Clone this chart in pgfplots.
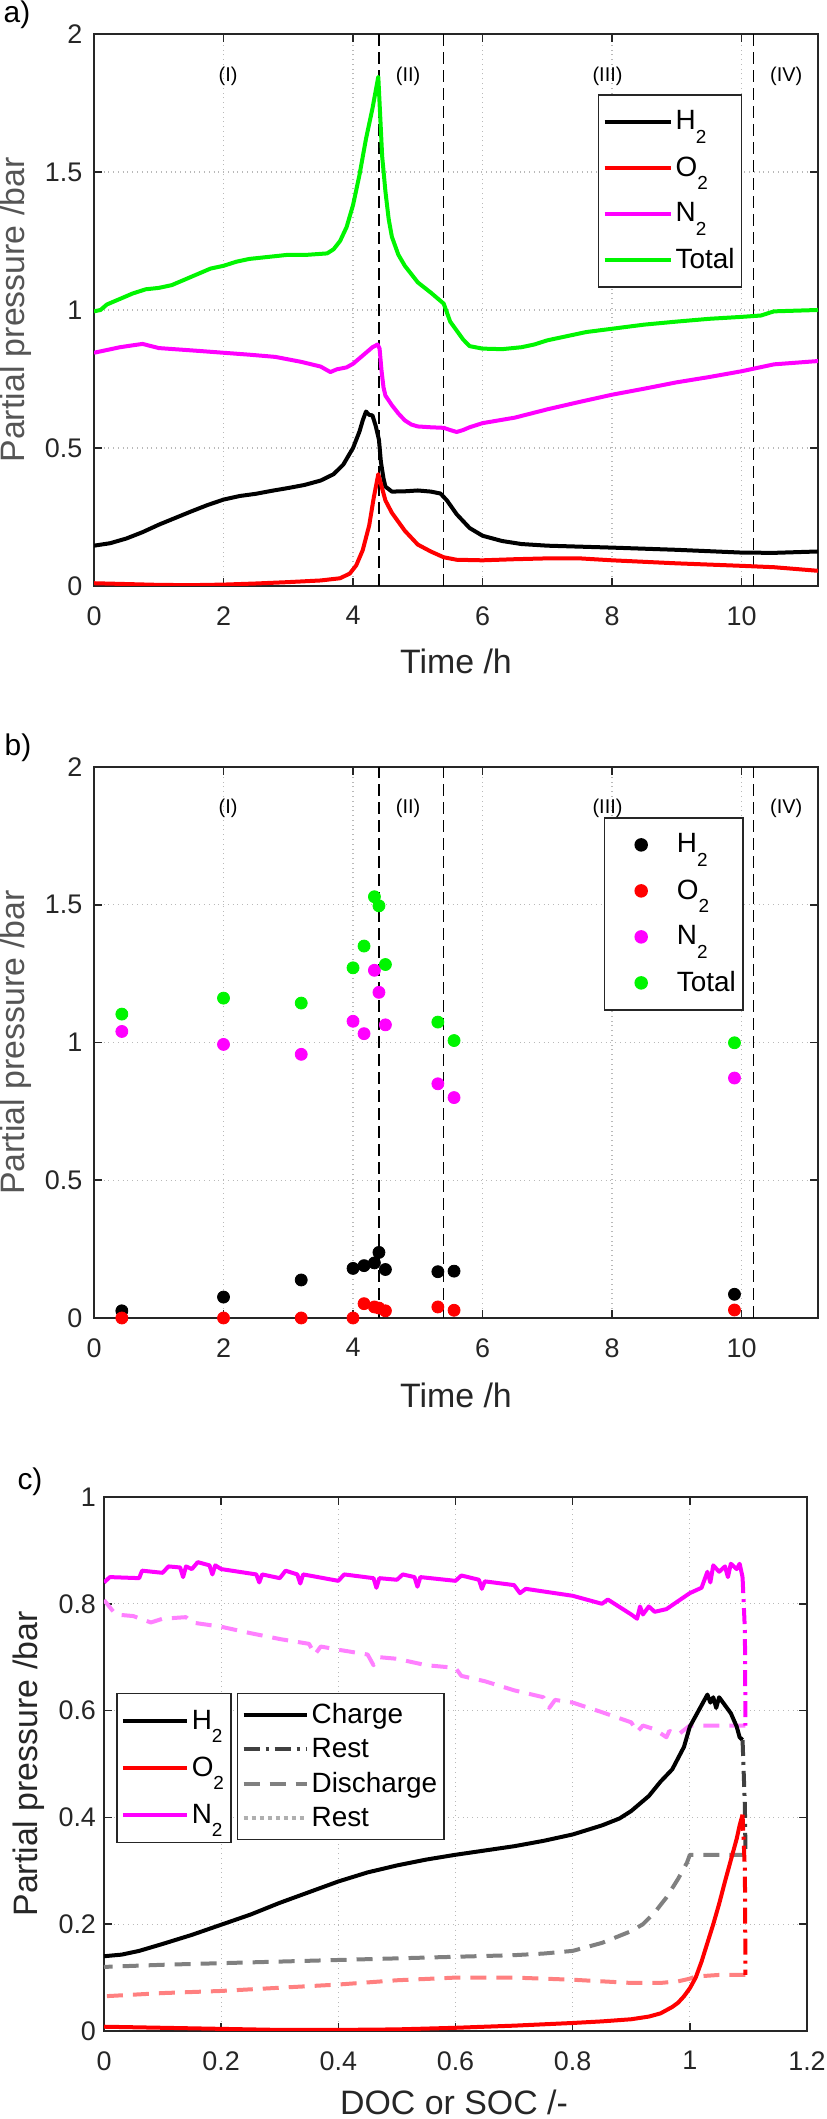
\documentclass[border=0pt]{standalone}
\usepackage{fontspec}
\setmainfont{Liberation Sans}
\usepackage{pgfplots}
\pgfplotsset{compat=1.18}
\definecolor{axcol}{RGB}{38,38,38}
\definecolor{gridcol}{RGB}{185,185,185}
\definecolor{mgreen}{RGB}{0,245,0}
\definecolor{mmag}{RGB}{255,0,255}
\definecolor{mred}{RGB}{255,0,0}
\definecolor{lmag}{RGB}{255,128,255}
\definecolor{lred}{RGB}{255,128,128}
\definecolor{dgray}{RGB}{64,64,64}
\definecolor{mgray}{RGB}{128,128,128}
\definecolor{lgray}{RGB}{175,175,175}
\definecolor{ylcol}{RGB}{85,85,85}
\newcommand{\sub}[1]{\raisebox{-6.6bp}{\fontsize{9.5}{10}\selectfont #1}}
\tikzset{
  rlab/.style={font=\fontsize{10}{12}\selectfont, text=black},
  mdash/.style={dash pattern=on 8bp off 5bp},
  mdashdot/.style={dash pattern=on 8bp off 3bp on 1.5bp off 3bp},
}
\pgfplotsset{
  mstyle/.style={
    scale only axis,
    axis line style={draw=axcol, line width=0.8bp},
    every tick/.style={draw=axcol, line width=0.8bp},
    major tick length=4bp,
    tick align=inside,
    xtick pos=both, ytick pos=both,
    xticklabel pos=bottom, yticklabel pos=left,
    grid=major,
    major grid style={draw=gridcol, dotted, line width=0.6bp},
    ticklabel style={font=\fontsize{13.5}{16}\selectfont, text=axcol},
    /pgf/number format/assume math mode=true,
    legend cell align=left,
    every axis plot/.append style={line join=round},
  },
  vline/.style={black, line width=0.6bp, dash pattern=on 6bp off 3bp, forget plot},
  legA/.style={legend style={draw=axcol, line width=0.75bp, font=\fontsize{14}{16}\selectfont,
     inner xsep=2bp, inner ysep=2bp, row sep=0bp,
     nodes={inner xsep=1.5bp, inner ysep=0bp, minimum height=23bp}}},
  markleg/.style={legend image code/.code={\path (0bp,0bp) (32bp,0bp); \draw[mark repeat=2, mark phase=2, ##1] plot coordinates {(0bp,0bp) (16bp,0bp) (32bp,0bp)};}},
  pts/.style={only marks, mark=*, mark size=3bp, color=#1, mark options={fill=#1}, markleg},
}
\begin{document}
\begin{tikzpicture}
\path[use as bounding box] (0,0) rectangle (413.5bp,1059.5bp);

% ---------------- panel a
\begin{axis}[mstyle,
  at={(47bp,766.5bp)}, anchor=south west,
  width=362bp, height=276bp,
  xmin=0, xmax=11.18, ymin=0, ymax=2,
  xtick={0,2,4,6,8,10}, ytick={0,0.5,1,1.5,2},
  xticklabel style={yshift=-6.7bp}, yticklabel style={xshift=-2.35bp},
  legA,
  legend style={at={(0.696,0.891)}, anchor=north west},
  legend image code/.code={\draw[#1] (0bp,0bp) -- (33bp,0bp);},
]
\addplot[vline] coordinates {(4.4,0) (4.4,2)};
\addplot[vline] coordinates {(5.4,0) (5.4,2)};
\addplot[vline] coordinates {(10.19,0) (10.19,2)};
\addplot[black, line width=2bp] coordinates {
(0,0.146)(0.25,0.155)(0.5,0.172)(0.75,0.195)(1.0,0.222)(1.25,0.246)(1.5,0.27)(1.75,0.293)(2.0,0.313)(2.25,0.326)(2.5,0.334)(2.75,0.345)(3.0,0.355)(3.25,0.366)(3.5,0.382)(3.7,0.405)(3.85,0.44)(4.0,0.50)(4.1,0.56)(4.15,0.60)(4.2,0.632)(4.25,0.62)(4.3,0.618)(4.35,0.58)(4.4,0.53)(4.43,0.45)(4.47,0.39)(4.5,0.36)(4.6,0.342)(4.8,0.343)(5.0,0.346)(5.2,0.342)(5.35,0.335)(5.45,0.31)(5.6,0.26)(5.8,0.21)(6.0,0.182)(6.3,0.163)(6.6,0.152)(7.0,0.146)(8.0,0.139)(9.0,0.131)(10.0,0.121)(10.5,0.12)(11.18,0.125)};
\addlegendentry{H\sub{2}}
\addplot[mred, line width=2bp] coordinates {
(0,0.01)(0.5,0.007)(1.0,0.004)(1.5,0.003)(2.0,0.005)(2.5,0.009)(3.0,0.014)(3.5,0.02)(3.8,0.028)(3.95,0.045)(4.05,0.075)(4.15,0.13)(4.25,0.22)(4.32,0.32)(4.39,0.405)(4.43,0.37)(4.5,0.31)(4.6,0.265)(4.8,0.20)(5.0,0.15)(5.2,0.125)(5.4,0.104)(5.6,0.095)(6.0,0.093)(6.5,0.097)(7.0,0.10)(7.5,0.10)(8.0,0.093)(9.0,0.082)(10.0,0.073)(10.5,0.068)(11.18,0.055)};
\addlegendentry{O\sub{2}}
\addplot[mmag, line width=2bp] coordinates {
(0,0.845)(0.2,0.855)(0.4,0.865)(0.6,0.872)(0.75,0.877)(1.0,0.862)(1.3,0.857)(1.6,0.852)(2.0,0.845)(2.4,0.838)(2.8,0.83)(3.2,0.812)(3.5,0.795)(3.65,0.775)(3.75,0.785)(3.9,0.792)(4.0,0.805)(4.1,0.825)(4.2,0.845)(4.3,0.865)(4.38,0.875)(4.41,0.86)(4.44,0.78)(4.47,0.72)(4.5,0.69)(4.6,0.655)(4.7,0.625)(4.8,0.60)(4.9,0.585)(5.0,0.578)(5.2,0.575)(5.4,0.573)(5.5,0.565)(5.6,0.558)(5.7,0.565)(5.8,0.575)(6.0,0.59)(6.5,0.61)(7.0,0.64)(7.5,0.667)(8.0,0.693)(8.5,0.715)(9.0,0.738)(9.5,0.757)(10.0,0.778)(10.5,0.803)(11.18,0.815)};
\addlegendentry{N\sub{2}}
\addplot[mgreen, line width=2bp] coordinates {
(0,0.995)(0.1,1.0)(0.2,1.02)(0.4,1.04)(0.6,1.06)(0.8,1.075)(1.0,1.08)(1.2,1.09)(1.4,1.11)(1.6,1.13)(1.8,1.15)(2.0,1.16)(2.2,1.175)(2.4,1.185)(2.6,1.19)(2.8,1.195)(3.0,1.2)(3.3,1.2)(3.6,1.205)(3.7,1.22)(3.8,1.25)(3.9,1.30)(4.0,1.38)(4.1,1.49)(4.2,1.62)(4.3,1.73)(4.39,1.845)(4.45,1.556)(4.5,1.43)(4.55,1.33)(4.6,1.265)(4.7,1.2)(4.8,1.16)(5.0,1.10)(5.2,1.063)(5.4,1.023)(5.5,0.958)(5.7,0.893)(5.8,0.869)(6.0,0.86)(6.3,0.858)(6.6,0.865)(6.8,0.875)(7.0,0.89)(7.3,0.905)(7.6,0.92)(8.0,0.932)(8.5,0.947)(9.0,0.958)(9.5,0.968)(10.0,0.975)(10.3,0.98)(10.5,0.995)(11.18,1.0)};
\addlegendentry{Total}
\node[rlab] at (axis cs:2.07,1.845) {(I)};
\node[rlab] at (axis cs:4.85,1.845) {(II)};
\node[rlab] at (axis cs:7.93,1.845) {(III)};
\node[rlab] at (axis cs:10.69,1.845) {(IV)};
\end{axis}

% ---------------- panel b
\begin{axis}[mstyle,
  at={(47bp,400.5bp)}, anchor=south west,
  width=362bp, height=275.5bp,
  xmin=0, xmax=11.18, ymin=0, ymax=2,
  xtick={0,2,4,6,8,10}, ytick={0,0.5,1,1.5,2},
  xticklabel style={yshift=-6.7bp}, yticklabel style={xshift=-2.35bp},
  legA,
  legend style={at={(0.704,0.909)}, anchor=north west},
]
\addplot[vline] coordinates {(4.4,0) (4.4,2)};
\addplot[vline] coordinates {(5.4,0) (5.4,2)};
\addplot[vline] coordinates {(10.19,0) (10.19,2)};
\addplot[pts=black]
  coordinates {(0.43,0.026)(2.0,0.076)(3.2,0.138)(4.0,0.18)(4.17,0.19)(4.33,0.2)(4.4,0.238)(4.5,0.176)(5.31,0.168)(5.56,0.17)(9.89,0.086)};
\addlegendentry{H\sub{2}}
\addplot[pts=mred]
  coordinates {(0.43,0.0)(2.0,0.0)(3.2,0.0)(4.0,0.0)(4.17,0.052)(4.33,0.04)(4.4,0.036)(4.5,0.026)(5.31,0.04)(5.56,0.028)(9.89,0.029)};
\addlegendentry{O\sub{2}}
\addplot[pts=mmag]
  coordinates {(0.43,1.04)(2.0,0.993)(3.2,0.957)(4.0,1.077)(4.17,1.032)(4.33,1.262)(4.4,1.182)(4.5,1.064)(5.31,0.85)(5.56,0.80)(9.89,0.871)};
\addlegendentry{N\sub{2}}
\addplot[pts=mgreen]
  coordinates {(0.43,1.103)(2.0,1.161)(3.2,1.143)(4.0,1.271)(4.17,1.35)(4.33,1.529)(4.4,1.496)(4.5,1.283)(5.31,1.074)(5.56,1.007)(9.89,0.999)};
\addlegendentry{Total}
\node[rlab] at (axis cs:2.07,1.85) {(I)};
\node[rlab] at (axis cs:4.85,1.85) {(II)};
\node[rlab] at (axis cs:7.93,1.85) {(III)};
\node[rlab] at (axis cs:10.69,1.85) {(IV)};
\end{axis}

% ---------------- panel c
\begin{axis}[mstyle,
  at={(52bp,44bp)}, anchor=south west,
  width=351.5bp, height=267bp,
  xmin=0, xmax=1.2, ymin=0, ymax=1,
  xtick={0,0.2,0.4,0.6,0.8,1,1.2}, ytick={0,0.2,0.4,0.6,0.8,1},
  xticklabel style={yshift=-6.7bp}, yticklabel style={xshift=-0.5bp},
  legA,
  legend style={at={(0.0171,0.633)}, anchor=north west, nodes={minimum height=23.5bp}},
  legend image code/.code={\draw[#1] (0bp,0bp) -- (32bp,0bp);},
]
\addlegendimage{black, line width=2bp}
\addlegendentry{H\sub{2}}
\addlegendimage{mred, line width=2bp}
\addlegendentry{O\sub{2}}
\addlegendimage{mmag, line width=2bp}
\addlegendentry{N\sub{2}}
% N2
\addplot[lmag, line width=2bp, mdash, forget plot] coordinates {
(1.095,0.572)(1.0,0.572)(0.98,0.555)(0.965,0.562)(0.96,0.55)(0.94,0.565)(0.92,0.572)(0.91,0.56)(0.9,0.578)(0.85,0.597)(0.8,0.615)(0.77,0.62)(0.76,0.605)(0.75,0.625)(0.7,0.638)(0.65,0.655)(0.61,0.665)(0.6,0.68)(0.55,0.685)(0.5,0.697)(0.47,0.7)(0.46,0.685)(0.45,0.705)(0.4,0.714)(0.37,0.72)(0.36,0.705)(0.35,0.725)(0.3,0.734)(0.25,0.745)(0.2,0.757)(0.15,0.765)(0.14,0.775)(0.1,0.772)(0.08,0.765)(0.05,0.777)(0.02,0.78)(0,0.807)};
\addplot[mmag, line width=2bp, forget plot] coordinates {
(0,0.84)(0.01,0.85)(0.06,0.848)(0.065,0.862)(0.1,0.858)(0.11,0.87)(0.13,0.868)(0.135,0.85)(0.14,0.87)(0.15,0.865)(0.16,0.878)(0.18,0.872)(0.185,0.855)(0.19,0.872)(0.2,0.865)(0.26,0.855)(0.265,0.84)(0.27,0.855)(0.3,0.848)(0.31,0.862)(0.33,0.855)(0.335,0.838)(0.34,0.855)(0.4,0.843)(0.41,0.855)(0.46,0.848)(0.465,0.83)(0.47,0.848)(0.5,0.845)(0.51,0.855)(0.53,0.85)(0.535,0.832)(0.54,0.85)(0.6,0.843)(0.61,0.853)(0.64,0.845)(0.645,0.828)(0.65,0.842)(0.7,0.835)(0.71,0.82)(0.72,0.828)(0.8,0.815)(0.85,0.8)(0.86,0.808)(0.9,0.78)(0.91,0.772)(0.915,0.795)(0.92,0.78)(0.93,0.795)(0.94,0.785)(0.96,0.79)(0.98,0.805)(1.0,0.82)(1.02,0.83)(1.03,0.86)(1.035,0.84)(1.04,0.872)(1.05,0.86)(1.06,0.87)(1.065,0.85)(1.07,0.875)(1.08,0.865)(1.085,0.875)(1.09,0.85)};
\addplot[mmag, line width=2bp, mdashdot, forget plot] coordinates {(1.09,0.85)(1.094,0.75)(1.095,0.572)};
% H2
\addplot[mgray, line width=2bp, mdash, forget plot] coordinates {
(1.095,0.33)(1.0,0.33)(0.995,0.315)(0.98,0.285)(0.96,0.25)(0.94,0.222)(0.92,0.2)(0.9,0.187)(0.85,0.165)(0.8,0.15)(0.75,0.145)(0.7,0.142)(0.6,0.139)(0.5,0.136)(0.4,0.133)(0.3,0.13)(0.2,0.127)(0.1,0.124)(0,0.12)};
\addplot[black, line width=2bp, forget plot] coordinates {
(0,0.14)(0.03,0.143)(0.06,0.15)(0.1,0.163)(0.15,0.18)(0.2,0.199)(0.25,0.218)(0.3,0.24)(0.35,0.26)(0.4,0.28)(0.45,0.297)(0.5,0.31)(0.55,0.321)(0.6,0.33)(0.65,0.338)(0.7,0.346)(0.75,0.356)(0.8,0.368)(0.85,0.385)(0.88,0.398)(0.9,0.412)(0.93,0.44)(0.95,0.467)(0.97,0.49)(0.99,0.532)(1.0,0.57)(1.01,0.59)(1.02,0.61)(1.03,0.63)(1.035,0.615)(1.04,0.625)(1.045,0.605)(1.05,0.625)(1.06,0.61)(1.07,0.595)(1.08,0.57)(1.085,0.55)(1.09,0.545)};
\addplot[dgray, line width=2bp, mdashdot, forget plot] coordinates {(1.09,0.545)(1.094,0.42)(1.095,0.33)};
% O2
\addplot[lred, line width=2bp, mdash, forget plot] coordinates {
(1.095,0.105)(1.05,0.105)(1.01,0.102)(1.0,0.098)(0.98,0.093)(0.95,0.09)(0.9,0.09)(0.85,0.093)(0.8,0.096)(0.7,0.1)(0.6,0.1)(0.5,0.095)(0.4,0.087)(0.3,0.081)(0.2,0.075)(0.1,0.071)(0,0.065)};
\addplot[mred, line width=2bp, forget plot] coordinates {
(0,0.008)(0.1,0.006)(0.2,0.004)(0.3,0.002)(0.4,0.002)(0.5,0.003)(0.6,0.006)(0.7,0.01)(0.8,0.015)(0.85,0.018)(0.9,0.022)(0.93,0.027)(0.95,0.033)(0.97,0.045)(0.98,0.053)(0.99,0.065)(1.0,0.08)(1.01,0.1)(1.02,0.13)(1.03,0.165)(1.04,0.2)(1.05,0.238)(1.06,0.28)(1.07,0.32)(1.08,0.36)(1.085,0.385)(1.09,0.405)};
\addplot[mred, line width=2bp, mdashdot, forget plot] coordinates {(1.09,0.405)(1.094,0.3)(1.095,0.105)};
\end{axis}

% second legend of panel c
\begin{axis}[
  at={(52bp,44bp)}, anchor=south west, scale only axis,
  width=351.5bp, height=267bp,
  xmin=0, xmax=1, ymin=0, ymax=1, hide axis,
  legend cell align=left, legA,
  legend style={at={(0.189,0.633)}, anchor=north west, nodes={minimum height=17.25bp}},
  legend image code/.code={\draw[#1] (0bp,0bp) -- (31.5bp,0bp);},
]
\addplot[draw=none, forget plot] coordinates {(0.5,0.5)};
\addlegendimage{black, line width=2bp}
\addlegendentry{Charge}
\addlegendimage{dgray, line width=2bp, mdashdot}
\addlegendentry{Rest}
\addlegendimage{mgray, line width=2bp, mdash}
\addlegendentry{Discharge}
\addlegendimage{lgray, line width=2bp, dotted}
\addlegendentry{Rest}
\end{axis}

% labels
\node[font=\fontsize{15}{18}\selectfont, text=black] at (8.5bp,1052bp) {a)};
\node[font=\fontsize{15}{18}\selectfont, text=black] at (9bp,685.5bp) {b)};
\node[font=\fontsize{15}{18}\selectfont, text=black] at (15bp,318.5bp) {c)};
\node[font=\fontsize{17}{20}\selectfont, text=axcol, anchor=base] at (228bp,722.5bp) {Time /h};
\node[font=\fontsize{17}{20}\selectfont, text=axcol, anchor=base] at (228bp,355.5bp) {Time /h};
\node[font=\fontsize{17}{20}\selectfont, text=axcol, anchor=base] at (227bp,2.5bp) {DOC or SOC /-};
\node[font=\fontsize{17}{20}\selectfont, text=ylcol, anchor=base, rotate=90] at (12bp,904.5bp) {Partial pressure /bar};
\node[font=\fontsize{17}{20}\selectfont, text=ylcol, anchor=base, rotate=90] at (12bp,538.25bp) {Partial pressure /bar};
\node[font=\fontsize{17}{20}\selectfont, text=axcol, anchor=base, rotate=90] at (18.75bp,177.5bp) {Partial pressure /bar};
\end{tikzpicture}
\end{document}
